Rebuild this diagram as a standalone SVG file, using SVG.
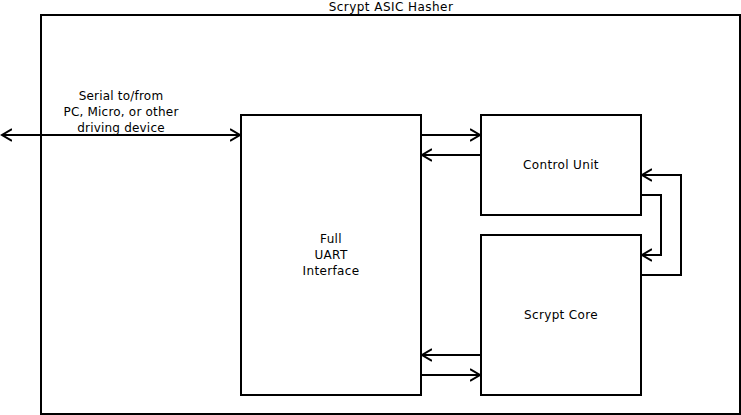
<svg xmlns="http://www.w3.org/2000/svg" width="741" height="415" viewBox="0 0 741 415">
<style>
.box{fill:#fff;stroke:#000;stroke-width:2}
.ln{fill:none;stroke:#000;stroke-width:2}
text{font-family:"DejaVu Sans",sans-serif;font-size:12px;fill:#000;text-anchor:middle;letter-spacing:0.35px}
</style>
<defs>
<marker id="ah" markerWidth="12" markerHeight="14" refX="10" refY="7" orient="auto-start-reverse" markerUnits="userSpaceOnUse">
<path d="M0,1 L10,7 L0,13" fill="none" stroke="#000" stroke-width="2"/>
</marker>
</defs>
<rect width="741" height="415" fill="#fff"/>
<g id="hasher">
<rect class="box" x="41" y="15" width="699" height="399"/>
<text x="391" y="11" style="letter-spacing:0.45px">Scrypt ASIC Hasher</text>
</g>
<g id="uart">
<rect class="box" x="241" y="115" width="180" height="280"/>
<text x="331" y="243">Full</text>
<text x="331" y="259">UART</text>
<text x="331" y="275">Interface</text>
</g>
<g id="control">
<rect class="box" x="481" y="115" width="160" height="100"/>
<text x="561" y="169">Control Unit</text>
</g>
<g id="core">
<rect class="box" x="481" y="235" width="160" height="160"/>
<text x="561" y="319">Scrypt Core</text>
</g>
<g id="connectors">
<path class="ln" d="M2,135 L240,135" marker-start="url(#ah)" marker-end="url(#ah)"/>
<path class="ln" d="M421,135 L480,135" marker-end="url(#ah)"/>
<path class="ln" d="M481,155 L422,155" marker-end="url(#ah)"/>
<path class="ln" d="M481,355 L422,355" marker-end="url(#ah)"/>
<path class="ln" d="M421,375 L480,375" marker-end="url(#ah)"/>
<path class="ln" d="M641,195 L661,195 L661,255 L642,255" marker-end="url(#ah)"/>
<path class="ln" d="M641,275 L681,275 L681,175 L642,175" marker-end="url(#ah)"/>
<text x="121" y="100" style="letter-spacing:0.2px">Serial to/from</text>
<text x="121" y="116" style="letter-spacing:0.2px">PC, Micro, or other</text>
<text x="121" y="132" style="letter-spacing:0.2px">driving device</text>
</g>
</svg>
